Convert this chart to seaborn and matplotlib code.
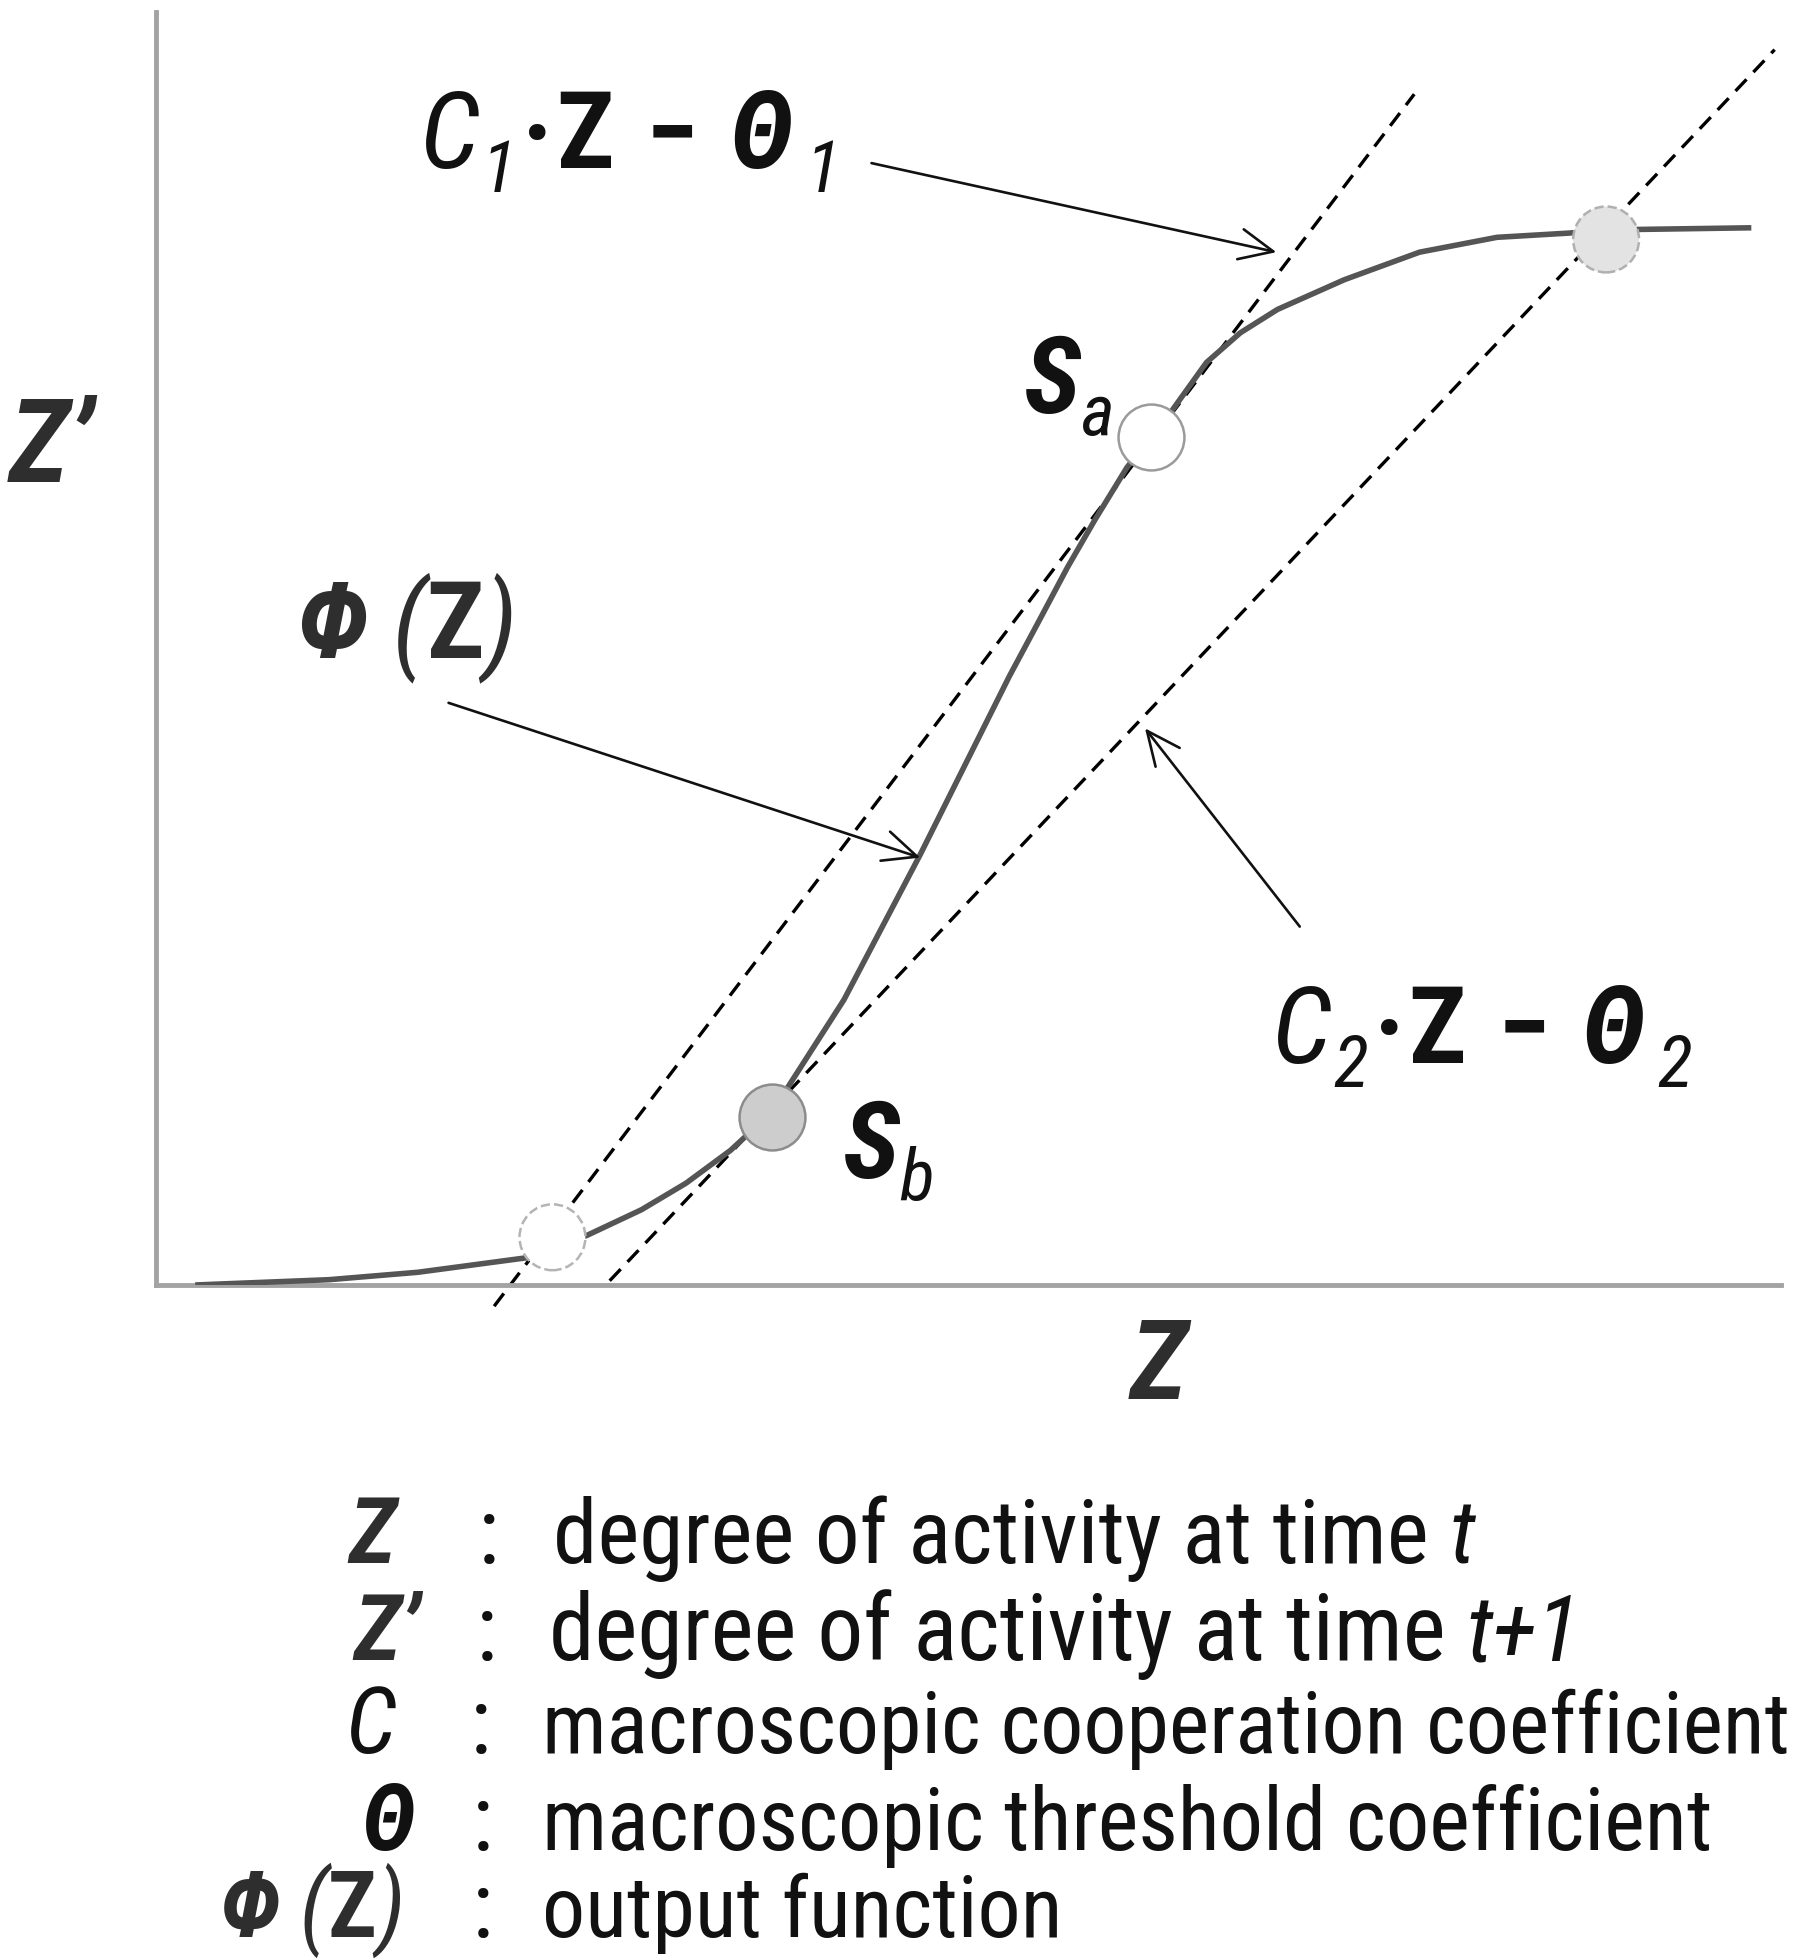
import matplotlib
matplotlib.use('Agg')
import matplotlib.pyplot as plt
import seaborn as sns
from matplotlib import font_manager
from matplotlib.transforms import IdentityTransform

# output function Phi(Z) (Z, Z')
phi_z = [0.037, 0.163, 0.247, 0.352, 0.374, 0.407, 0.458, 0.500, 0.542, 0.581,
         0.649, 0.721, 0.805, 0.835, 0.860, 0.886, 0.916, 0.939, 0.958, 0.991,
         1.023, 1.058, 1.121, 1.192, 1.265, 1.333, 1.368, 1.505]
phi_zp = [0.000, 0.005, 0.012, 0.026, 0.035, 0.047, 0.071, 0.096, 0.127, 0.163,
          0.269, 0.406, 0.574, 0.630, 0.677, 0.722, 0.771, 0.800, 0.824, 0.870,
          0.898, 0.920, 0.948, 0.974, 0.988, 0.992, 0.995, 0.997]

# the two straight lines C*Z - Theta
c1_z = [0.319, 1.187]
c1_zp = [-0.020, 1.123]
c2_z = [0.428, 1.527]
c2_zp = [0.004, 1.165]

# fixed points (intersections)
pt_z = [0.374, 0.581, 0.939, 1.368]
pt_zp = [0.045, 0.158, 0.800, 0.986]
pt_face = ['white', '#cdcdcd', 'white', '#e3e3e3']
pt_edge = ['#b4b4b4', '#8c8c8c', '#9a9a9a', '#b0b0b0']
pt_ls = ['--', '-', '-', '--']

# arrows: tail -> head
arr_tail_z = [0.675, 0.276, 1.079]
arr_tail_zp = [1.058, 0.549, 0.338]
arr_head_z = [1.057, 0.721, 0.933]
arr_head_zp = [0.974, 0.403, 0.525]

legend_desc = ['degree of activity at time ', 'degree of activity at time ',
               'macroscopic cooperation coefficient', 'macroscopic threshold coefficient',
               'output function']
legend_tail = ['t', 't+1', '', '', '']

W, H = 1795, 1959
sns.set_style('white')

# look for a narrow / condensed sans face, the original lettering is condensed
ttf = font_manager.fontManager.ttflist
FONT, STRETCH = 'Liberation Sans', 'normal'
for fam in ['Liberation Sans Narrow', 'Arial Narrow', 'Roboto Condensed', 'Open Sans Condensed',
            'Noto Sans Condensed', 'DejaVu Sans Condensed', 'Noto Sans', 'DejaVu Sans',
            'Open Sans', 'Roboto']:
    hits = [f for f in ttf if f.name == fam and ('Narrow' in fam or 'Condensed' in fam
                                                 or 'condensed' in str(f.stretch))]
    if hits:
        FONT = fam
        STRETCH = 'normal' if ('Narrow' in fam or 'Condensed' in fam) else 'condensed'
        break
plt.rcParams['font.family'] = [FONT, 'DejaVu Sans']

fig = plt.figure(figsize=(W / 100, H / 100), dpi=100)
ax = fig.add_axes([156 / W, 1 - 1285 / H, 1625 / W, 1273 / H])
ax.set_xlim(0, 1.533)
ax.set_ylim(0, 1.2005)

sns.lineplot(x=c1_z, y=c1_zp, ax=ax, color='black', lw=2.4, sort=False, zorder=2)
sns.lineplot(x=c2_z, y=c2_zp, ax=ax, color='black', lw=2.4, sort=False, zorder=2)
for ln in ax.lines:
    ln.set_dashes((4.8, 3.0))
    ln.set_clip_on(False)
sns.lineplot(x=phi_z, y=phi_zp, ax=ax, color='#555555', lw=4.0, sort=False, zorder=3,
             solid_joinstyle='round', solid_capstyle='butt')

for i in range(len(pt_z)):
    sns.scatterplot(x=[pt_z[i]], y=[pt_zp[i]], ax=ax, s=2250, color=pt_face[i],
                    edgecolor=pt_edge[i], linewidth=1.8, linestyle=pt_ls[i],
                    zorder=5, clip_on=False)

for i in range(len(arr_tail_z)):
    ax.annotate('', xy=(arr_head_z[i], arr_head_zp[i]), xytext=(arr_tail_z[i], arr_tail_zp[i]),
                arrowprops=dict(arrowstyle='->,head_length=1.1,head_width=0.5', lw=1.9,
                                color='#111111', shrinkA=0, shrinkB=0, mutation_scale=22),
                zorder=6)

for side in ['top', 'right']:
    ax.spines[side].set_visible(False)
for side in ['left', 'bottom']:
    ax.spines[side].set_color('#a3a3a3')
    ax.spines[side].set_linewidth(3.5)
ax.set_xticks([])
ax.set_yticks([0, 1])
ax.set_yticklabels([])
ax.tick_params(axis='y', length=8, width=3.0, color='#a3a3a3')

renderer = fig.canvas.get_renderer()


def runs(x, y, parts, ha='left', width=None, gaps=None):
    # parts: (text, size, weight, style, drop_px, color); width = target width in px
    # gaps: optional extra space (px) after each part
    objs = []
    for txt, size, weight, style, drop, col in parts:
        t = fig.text(0, 0, txt, fontsize=size, fontweight=weight, fontstyle=style,
                     fontstretch=STRETCH, color=col, va='baseline', ha='left',
                     transform=IdentityTransform())
        objs.append((t, drop, size))
    widths = [t.get_window_extent(renderer).width for t, _, _ in objs]
    k = 1.0
    if width is not None and sum(widths) > width * 1.02:
        k = width / sum(widths)
        for t, _, size in objs:
            t.set_fontsize(size * k)
        widths = [t.get_window_extent(renderer).width for t, _, _ in objs]
    if gaps is None:
        gaps = [0] * len(objs)
    cx = x - sum(widths) - sum(gaps) if ha == 'right' else x
    for (t, drop, _), w, g in zip(objs, widths, gaps):
        t.set_position((cx, H - y - drop * k))
        cx += w + g


BIG, SUB = 78, 52
K = '#111111'
G = '#2e2e2e'
expr_gaps = [3, 6, 3, 32, 32, 12, 0]
runs(419, 168, [('C', BIG, 'normal', 'italic', 0, K), ('1', SUB, 'normal', 'italic', 24, K),
                ('·', BIG, 'bold', 'normal', 0, K), ('Z', BIG, 'bold', 'normal', 0, K),
                ('−', BIG, 'bold', 'normal', 0, K), ('Θ', BIG, 'bold', 'italic', 0, K),
                ('1', SUB, 'normal', 'italic', 24, K)], gaps=expr_gaps)
runs(1271, 1063, [('C', BIG, 'normal', 'italic', 0, K), ('2', SUB, 'normal', 'italic', 24, K),
                  ('·', BIG, 'bold', 'normal', 0, K), ('Z', BIG, 'bold', 'normal', 0, K),
                  ('−', BIG, 'bold', 'normal', 0, K), ('Θ', BIG, 'bold', 'italic', 0, K),
                  ('2', SUB, 'normal', 'italic', 24, K)], gaps=expr_gaps)
runs(1023, 413, [('S', BIG, 'bold', 'italic', 0, K), ('a', SUB, 'normal', 'italic', 22, K)],
     width=90)
runs(842, 1178, [('S', BIG, 'bold', 'italic', 0, K), ('b', SUB, 'normal', 'italic', 22, K)],
     width=92)
runs(297, 658, [('Φ', BIG, 'bold', 'italic', 0, G), (' (', BIG, 'normal', 'italic', 0, G),
                ('Z', BIG, 'bold', 'normal', 0, G), (')', BIG, 'normal', 'italic', 0, G)],
     width=218)
runs(9, 482, [('Z’', 84, 'bold', 'italic', 0, G)], width=100)
runs(1130, 1399, [('Z', 80, 'bold', 'italic', 0, G)], width=70)

# legend block
LS = 66
rows_y = [1563, 1660, 1753, 1850, 1937]
sym_right = [395, 420, 395, 415, 405]
colon_x = [478, 476, 470, 472, 472]
desc_x = [553, 549, 542, 542, 542]
desc_w = [920, 1015, 1245, 1170, 520]
sym_w = [58, 82, 52, 62, 185]
syms = [[('Z', LS, 'bold', 'italic', 0, G)],
        [('Z’', LS, 'bold', 'italic', 0, G)],
        [('C', LS, 'normal', 'italic', 0, K)],
        [('Θ', LS, 'bold', 'italic', 0, K)],
        [('Φ', LS, 'bold', 'italic', 0, G), (' (', LS, 'normal', 'italic', 0, G),
         ('Z', LS, 'bold', 'normal', 0, G), (')', LS, 'normal', 'italic', 0, G)]]
for i in range(5):
    runs(sym_right[i], rows_y[i], syms[i], ha='right', width=sym_w[i])
    runs(colon_x[i], rows_y[i], [(':', LS, 'normal', 'normal', 0, K)])
    parts = [(legend_desc[i], LS, 'normal', 'normal', 0, K)]
    if legend_tail[i]:
        parts.append((legend_tail[i], LS, 'normal', 'italic', 0, K))
    runs(desc_x[i], rows_y[i], parts, width=desc_w[i])

fig.savefig('out.png', dpi=100)
